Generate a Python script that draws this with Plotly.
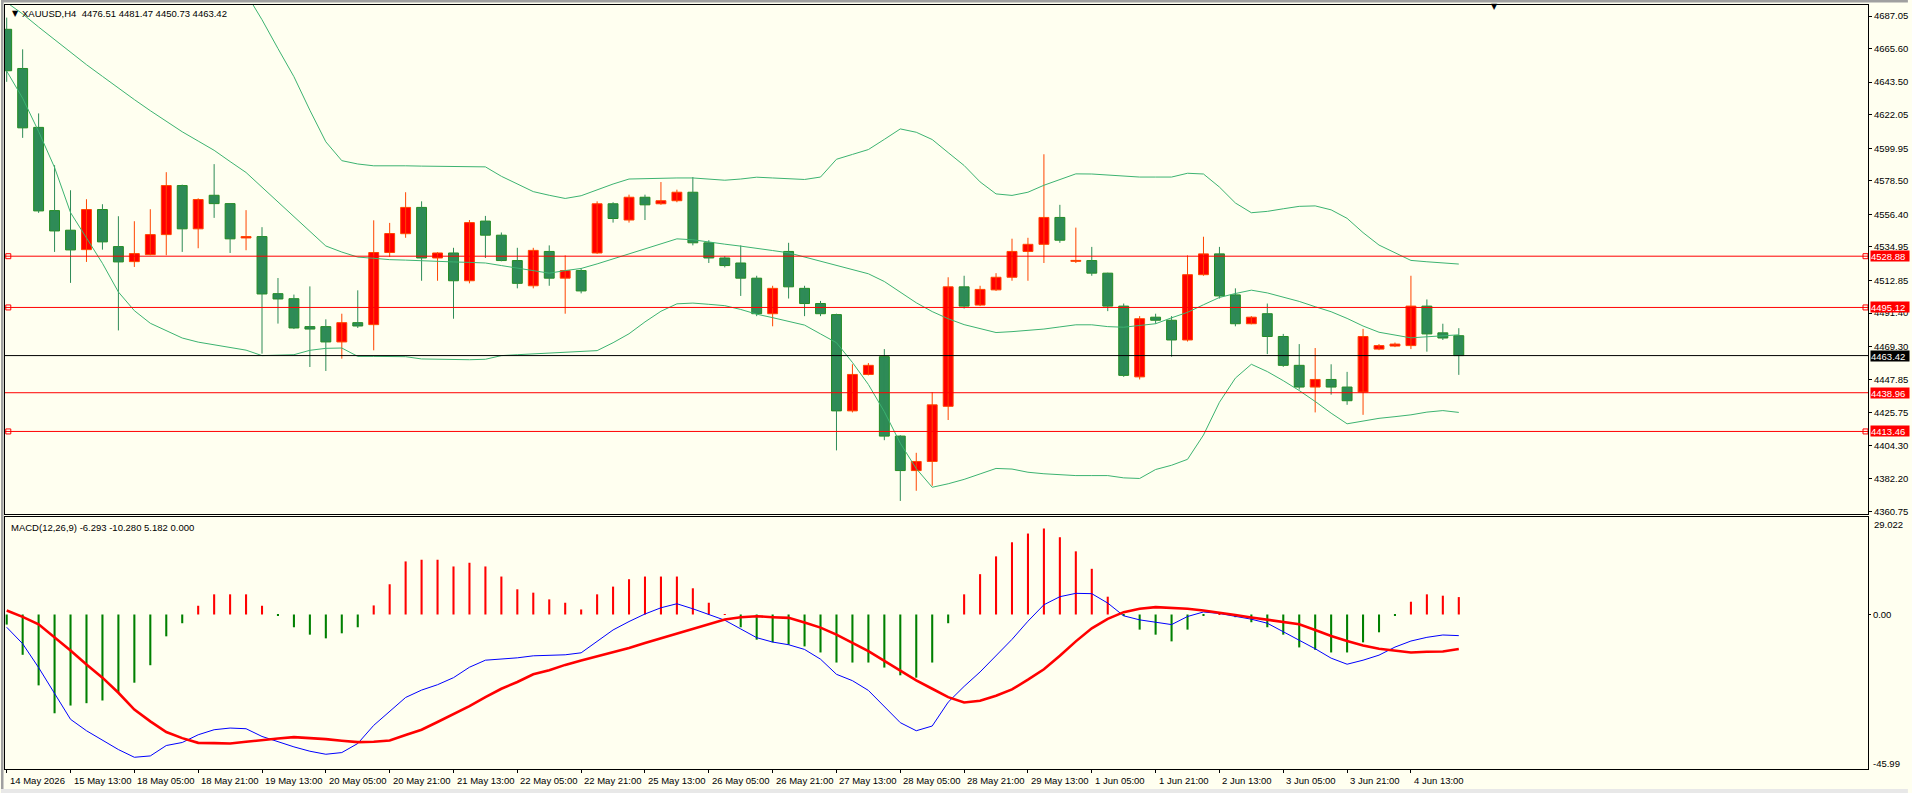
import plotly.graph_objects as go

# ---------------- data ----------------
opens = [4678.3, 4652.5, 4613.7, 4558.9, 4546.0, 4533.2, 4559.6, 4535.2, 4525.3, 4529.9,
         4543.1, 4575.4, 4546.9, 4569.0, 4563.5, 4540.9, 4541.8, 4504.2, 4500.9, 4482.5,
         4482.5, 4472.4, 4485.1, 4483.8, 4531.3, 4543.7, 4561.0, 4527.7, 4531.0, 4512.7,
         4552.0, 4542.7, 4526.0, 4509.4, 4532.0, 4514.4, 4519.4, 4531.0, 4563.4, 4552.7,
         4567.7, 4563.4, 4565.4, 4571.0, 4537.7, 4527.7, 4524.4, 4514.4, 4491.0, 4532.0,
         4507.7, 4497.7, 4490.4, 4427.0, 4451.0, 4462.7, 4410.4, 4387.7, 4393.7, 4430.0,
         4508.7, 4496.7, 4506.7, 4515.0, 4532.0, 4536.7, 4554.4, 4525.5, 4526.0, 4517.7,
         4496.0, 4449.4, 4488.7, 4486.7, 4473.7, 4516.7, 4530.4, 4503.4, 4484.4, 4491.0,
         4476.0, 4457.0, 4442.7, 4447.7, 4442.7, 4439.4, 4467.7, 4469.7, 4470.0, 4496.0,
         4478.4, 4476.51]
highs = [4686.0, 4665.1, 4622.9, 4588.8, 4572.3, 4566.4, 4563.1, 4555.2, 4551.9, 4559.8,
         4584.2, 4576.0, 4567.0, 4589.5, 4563.7, 4559.2, 4548.0, 4514.5, 4503.6, 4509.0,
         4487.3, 4491.0, 4506.4, 4552.5, 4550.8, 4571.0, 4565.0, 4531.5, 4534.4, 4552.7,
         4555.4, 4544.5, 4534.4, 4534.4, 4536.0, 4529.4, 4521.0, 4565.0, 4564.4, 4569.4,
         4569.4, 4577.7, 4572.7, 4581.0, 4539.4, 4529.0, 4536.0, 4516.0, 4509.4, 4537.7,
         4509.4, 4499.4, 4491.0, 4457.7, 4458.5, 4467.7, 4411.0, 4399.4, 4439.4, 4515.0,
         4516.0, 4509.4, 4517.7, 4540.4, 4541.0, 4596.0, 4562.7, 4547.7, 4535.0, 4518.0,
         4497.7, 4489.4, 4491.0, 4489.4, 4529.4, 4541.7, 4535.0, 4507.7, 4489.4, 4497.7,
         4477.7, 4471.0, 4468.4, 4457.7, 4452.7, 4481.0, 4471.0, 4472.0, 4516.0, 4500.4,
         4484.4, 4481.47]
lows = [4643.7, 4606.8, 4557.4, 4531.7, 4511.3, 4525.1, 4533.2, 4480.0, 4521.8, 4529.5,
        4529.5, 4531.7, 4534.1, 4554.1, 4531.0, 4532.8, 4464.7, 4484.5, 4480.9, 4455.9,
        4453.3, 4461.4, 4481.6, 4466.9, 4528.4, 4541.0, 4512.7, 4512.7, 4487.7, 4511.0,
        4527.7, 4525.5, 4507.7, 4507.7, 4509.4, 4491.0, 4504.4, 4530.4, 4551.0, 4551.0,
        4552.7, 4562.7, 4564.4, 4536.0, 4524.4, 4521.5, 4502.7, 4489.4, 4482.7, 4501.0,
        4489.4, 4489.4, 4401.0, 4426.0, 4450.4, 4407.7, 4367.7, 4374.4, 4377.7, 4421.0,
        4494.4, 4496.0, 4506.0, 4512.7, 4512.7, 4524.4, 4537.7, 4524.4, 4516.0, 4492.7,
        4449.4, 4447.7, 4484.4, 4462.7, 4472.7, 4516.0, 4501.0, 4482.7, 4484.0, 4464.4,
        4456.0, 4441.0, 4426.0, 4437.7, 4431.0, 4424.4, 4467.0, 4469.0, 4467.7, 4466.0,
        4473.7, 4450.73]
closes = [4651.0, 4613.4, 4558.7, 4545.5, 4533.0, 4559.6, 4538.3, 4525.1, 4530.6, 4543.1,
          4575.4, 4546.9, 4566.2, 4563.5, 4540.3, 4541.8, 4504.0, 4500.7, 4481.6, 4480.9,
          4472.4, 4485.1, 4482.9, 4531.3, 4543.8, 4561.0, 4527.7, 4531.0, 4512.7, 4551.0,
          4542.7, 4526.0, 4511.0, 4532.7, 4514.4, 4519.4, 4506.0, 4563.4, 4553.7, 4567.7,
          4562.7, 4565.4, 4571.0, 4537.7, 4527.7, 4522.7, 4514.4, 4491.0, 4507.7, 4508.7,
          4497.7, 4491.0, 4427.0, 4451.0, 4457.0, 4410.4, 4387.7, 4393.7, 4431.0, 4508.7,
          4496.0, 4507.0, 4515.0, 4532.0, 4536.7, 4554.4, 4539.4, 4526.0, 4517.7, 4496.0,
          4450.4, 4487.7, 4486.7, 4473.7, 4516.7, 4530.4, 4502.7, 4484.4, 4488.7, 4476.0,
          4457.0, 4442.7, 4447.7, 4442.7, 4433.7, 4476.0, 4470.0, 4471.0, 4496.0, 4477.7,
          4475.0, 4463.42]

bb_upper = [None] * 15 + [
    4702.0, 4684.6, 4665.6, 4647.1, 4625.0, 4604.2, 4591.8, 4589.6, 4588.4, 4588.6,
    4588.4, 4588.2, 4588.0, 4587.9, 4587.7, 4587.7, 4581.5, 4576.4, 4571.4, 4569.0,
    4566.9, 4568.7, 4572.7, 4576.4, 4579.7, 4580.0, 4580.4, 4580.4, 4580.4, 4579.7,
    4578.9, 4579.7, 4580.9, 4580.4, 4579.7, 4579.4, 4581.0, 4592.7, 4595.9, 4599.1,
    4605.8, 4612.7, 4610.5, 4605.7, 4597.1, 4588.6, 4577.8, 4569.9, 4568.9, 4571.0,
    4575.6, 4579.4, 4583.1, 4583.0, 4582.4, 4581.7, 4581.0, 4581.0, 4581.0, 4583.5,
    4583.0, 4574.4, 4563.9, 4557.5, 4558.4, 4560.1, 4561.7, 4562.0, 4559.4, 4553.8,
    4544.4, 4536.2, 4531.1, 4526.1, 4525.2, 4524.4, 4523.7]
bb_mid = [4696.0, 4688.4, 4679.8, 4671.4, 4662.9, 4655.0, 4647.3, 4639.4, 4632.0, 4624.7,
          4617.5, 4610.8, 4604.7, 4598.6, 4591.2, 4584.0, 4574.3, 4564.6, 4555.0, 4545.3,
          4535.6, 4531.6, 4528.3, 4527.5, 4526.6, 4526.3, 4525.8, 4525.5, 4525.1, 4524.8,
          4524.4, 4522.7, 4520.9, 4519.2, 4517.7, 4519.4, 4520.8, 4523.8, 4527.1, 4530.5,
          4533.8, 4537.1, 4540.3, 4539.7, 4538.1, 4536.8, 4535.5, 4534.2, 4532.6, 4531.1,
          4528.4, 4525.5, 4522.7, 4520.0, 4517.3, 4512.2, 4505.2, 4498.2, 4492.4, 4487.7,
          4483.8, 4481.2, 4478.6, 4479.2, 4480.1, 4480.9, 4482.3, 4483.7, 4483.7, 4482.5,
          4482.1, 4483.2, 4484.4, 4488.3, 4491.9, 4496.9, 4501.7, 4504.3, 4506.5, 4504.7,
          4502.1, 4499.1, 4495.6, 4492.3, 4487.9, 4482.9, 4478.8, 4476.9, 4475.1, 4475.8,
          4476.5, 4477.1]
bb_lower = [4650.8, 4632.9, 4611.0, 4587.3, 4557.6, 4540.5, 4524.2, 4505.3, 4493.0, 4484.7,
            4479.9, 4475.0, 4472.3, 4470.5, 4468.7, 4467.0, 4463.4, 4463.6, 4464.0, 4466.9,
            4468.2, 4468.4, 4462.9, 4462.9, 4462.9, 4462.7, 4461.2, 4461.0, 4461.0, 4460.7,
            4461.0, 4463.4, 4464.0, 4464.5, 4465.1, 4465.6, 4466.2, 4466.7, 4471.9, 4477.8,
            4485.6, 4492.6, 4497.5, 4498.0, 4497.2, 4496.3, 4493.8, 4490.7, 4488.4, 4486.2,
            4483.5, 4477.7, 4471.9, 4458.9, 4444.4, 4426.5, 4405.7, 4389.0, 4376.7, 4379.0,
            4381.9, 4385.5, 4389.1, 4388.7, 4386.6, 4385.6, 4384.9, 4384.4, 4384.4, 4384.4,
            4382.9, 4382.5, 4388.4, 4391.2, 4395.1, 4411.1, 4432.7, 4448.6, 4457.7, 4452.9,
            4446.9, 4440.4, 4433.2, 4425.5, 4418.5, 4420.4, 4422.1, 4423.2, 4424.4, 4426.2,
            4427.2, 4426.0]

macd_hist = [-3.0, -12.0, -21.1, -29.4, -27.1, -26.4, -25.6, -23.3, -20.3, -15.1,
             -6.5, -2.6, 2.6, 6.0, 6.0, 6.0, 2.6, -0.3, -3.8, -6.0,
             -7.1, -5.6, -3.8, 2.7, 9.0, 15.8, 16.3, 16.3, 14.3, 15.4,
             14.3, 11.3, 7.5, 6.5, 4.5, 3.5, 1.5, 6.0, 8.3, 10.5,
             11.3, 11.3, 11.3, 7.8, 3.5, 0.1, -3.8, -7.5, -8.3, -9.0,
             -9.5, -11.3, -14.3, -14.3, -14.3, -15.8, -18.1, -18.8, -14.3, -2.6,
             6.0, 12.0, 17.3, 21.5, 24.1, 25.6, 23.0, 18.8, 13.6, 5.3,
             -0.2, -4.5, -6.0, -8.0, -4.5, -0.2, 0.2, -0.8, -2.3, -3.8,
             -6.0, -9.8, -10.5, -11.3, -11.3, -8.3, -5.3, -0.3, 3.8, 6.0,
             5.6, 5.182]
macd_main = [-3.8, -8.7, -15.8, -23.3, -31.2, -34.6, -37.3, -40.2, -42.5, -42.1,
             -39.0, -38.1, -35.8, -34.3, -33.8, -34.0, -36.3, -37.9, -39.4, -40.7,
             -41.6, -41.1, -38.4, -33.0, -28.9, -24.7, -22.5, -20.9, -18.8, -15.7,
             -13.6, -13.3, -12.9, -12.3, -12.2, -12.0, -11.4, -8.0, -4.6, -2.1,
             0.15, 2.0, 3.2, 1.7, 0.0, -1.7, -4.3, -6.9, -8.2, -9.0,
             -10.4, -13.3, -17.8, -19.7, -22.6, -27.3, -32.2, -34.6, -33.2, -26.1,
             -21.4, -17.1, -12.4, -7.4, -2.0, 2.9, 5.3, 6.3, 6.2, 3.4,
             -0.4, -1.6, -2.3, -3.0, -0.6, 0.75, 0.3, -0.45, -1.4, -2.6,
             -5.1, -7.5, -10.2, -13.0, -14.8, -13.6, -12.1, -9.7, -7.9, -6.8,
             -6.1, -6.293]
macd_signal = [1.2, -0.7, -2.9, -6.8, -10.7, -14.9, -18.8, -23.3, -28.3, -31.8,
               -35.0, -36.8, -38.2, -38.3, -38.4, -37.9, -37.3, -36.9, -36.5, -36.7,
               -37.1, -37.6, -38.0, -37.9, -37.5, -35.9, -34.3, -32.0, -29.7, -27.3,
               -24.6, -22.1, -20.1, -17.8, -16.6, -15.0, -13.7, -12.5, -11.3, -10.0,
               -8.5, -7.1, -5.6, -4.2, -2.9, -1.5, -0.8, -0.5, -0.8, -1.0,
               -2.4, -3.9, -6.0, -8.5, -10.9, -13.8, -16.7, -19.6, -22.1, -24.6,
               -26.2, -25.7, -24.2, -22.3, -19.4, -16.3, -12.3, -8.0, -4.1, -1.3,
               0.7, 1.7, 2.2, 2.0, 1.7, 1.2, 0.6, -0.15, -0.9, -1.6,
               -2.3, -2.9, -4.6, -6.4, -7.9, -9.2, -10.2, -10.8, -11.3, -11.1,
               -11.0, -10.280]

time_labels = ["14 May 2026", "15 May 13:00", "18 May 05:00", "18 May 21:00", "19 May 13:00",
               "20 May 05:00", "20 May 21:00", "21 May 13:00", "22 May 05:00", "22 May 21:00",
               "25 May 13:00", "26 May 05:00", "26 May 21:00", "27 May 13:00", "28 May 05:00",
               "28 May 21:00", "29 May 13:00", "1 Jun 05:00", "1 Jun 21:00", "2 Jun 13:00",
               "3 Jun 05:00", "3 Jun 21:00", "4 Jun 13:00"]
time_label_bars = [0, 4, 8, 12, 16, 20, 24, 28, 32, 36, 40, 44, 48, 52, 56, 60, 64, 68, 72, 76, 80, 84, 88]

price_ticks = [4687.05, 4665.60, 4643.50, 4622.05, 4599.95, 4578.50, 4556.40, 4534.95,
               4512.85, 4491.40, 4469.30, 4447.85, 4425.75, 4404.30, 4382.20, 4360.75]
red_levels = [4528.88, 4495.12, 4438.96, 4413.46]
marked_levels = [4528.88, 4495.12, 4413.46]
bid_level = 4463.42
macd_max, macd_min = 29.022, -45.99
header = "XAUUSD,H4  4476.51 4481.47 4450.73 4463.42"
macd_title = "MACD(12,26,9) -6.293 -10.280 5.182 0.000"

# ---------------- geometry (pixels) ----------------
W, H = 1912, 793
L_M, R_M, T_M, B_M = 4, 40, 5, 24
PW = W - L_M - R_M
PH = H - T_M - B_M
BAR_PX = 16.0
X0 = -(5.7 - L_M) / BAR_PX
X1 = X0 + PW / BAR_PX


def px(X):
    return (X - L_M) / PW


def py(Y):
    return (H - B_M - Y) / PH


main_dom = [py(514), 1.0]
macd_dom = [0.0, py(517)]
FONT = "Liberation Sans, Arial, sans-serif"
BG = "#FFFFF0"

n = len(closes)
idx = list(range(n))
up = [i for i in idx if closes[i] >= opens[i]]
dn = [i for i in idx if closes[i] < opens[i]]

fig = go.Figure()


def wicks(sel):
    xs, ys = [], []
    for i in sel:
        xs += [i, i, None]
        ys += [lows[i], highs[i], None]
    return xs, ys


for sel, col in ((dn, "#2E8B57"), (up, "#FF4500")):
    xs, ys = wicks(sel)
    fig.add_trace(go.Scatter(x=xs, y=ys, mode="lines", line=dict(color=col, width=1),
                             hoverinfo="skip", xaxis="x", yaxis="y"))

for sel, fill, edge in ((dn, "#2E8B57", "#228B22"), (up, "#FF0000", "#FF4500")):
    fig.add_trace(go.Bar(
        x=sel,
        base=[min(opens[i], closes[i]) for i in sel],
        y=[max(abs(closes[i] - opens[i]), 0.6) for i in sel],
        width=0.62,
        marker=dict(color=fill, line=dict(color=edge, width=1)),
        xaxis="x", yaxis="y"))

for band in (bb_upper, bb_mid, bb_lower):
    fig.add_trace(go.Scatter(x=idx, y=band, mode="lines",
                             line=dict(color="#3CB371", width=1),
                             xaxis="x", yaxis="y"))

# level end markers
for lv in marked_levels:
    fig.add_trace(go.Scatter(x=[X0 + 3.3 / BAR_PX, X1 - 2.5 / BAR_PX], y=[lv, lv], mode="markers",
                             marker=dict(symbol="square-open", size=5, color="#FF0000",
                                         line=dict(width=1, color="#FF0000")),
                             cliponaxis=False, xaxis="x", yaxis="y"))

# MACD panel
fig.add_trace(go.Bar(x=idx, y=macd_hist, width=0.13,
                     marker=dict(color=["#FF0000" if v > 0 else "#008000" for v in macd_hist],
                                 line=dict(width=0)),
                     xaxis="x2", yaxis="y2"))
fig.add_trace(go.Scatter(x=idx, y=macd_main, mode="lines", line=dict(color="#0000FF", width=1),
                         xaxis="x2", yaxis="y2"))
fig.add_trace(go.Scatter(x=idx, y=macd_signal, mode="lines", line=dict(color="#FF0000", width=2.6),
                         xaxis="x2", yaxis="y2"))

shapes = []
for lv in red_levels:
    shapes.append(dict(type="line", xref="paper", x0=0, x1=1, yref="y", y0=lv, y1=lv,
                       line=dict(color="#FF0000", width=1)))
shapes.append(dict(type="line", xref="paper", x0=0, x1=1, yref="y", y0=bid_level, y1=bid_level,
                   line=dict(color="#000000", width=1)))
# window frame
shapes.append(dict(type="rect", xref="paper", yref="paper", x0=px(0), x1=px(2.5), y0=py(793), y1=py(0),
                   fillcolor="#A0A0A0", line=dict(width=0), layer="above"))
shapes.append(dict(type="rect", xref="paper", yref="paper", x0=px(0), x1=px(1912), y0=py(2.5), y1=py(0),
                   fillcolor="#A0A0A0", line=dict(width=0), layer="above"))
shapes.append(dict(type="rect", xref="paper", yref="paper", x0=px(0), x1=px(1912), y0=py(793), y1=py(789),
                   fillcolor="#E8E8E8", line=dict(width=0), layer="above"))

ann = []
ann.append(dict(xref="paper", yref="paper", x=px(9), y=py(13), text="▼", showarrow=False,
                xanchor="left", yanchor="middle", font=dict(family="DejaVu Sans", size=8, color="black")))
ann.append(dict(xref="paper", yref="paper", x=px(19), y=py(13), text=header, showarrow=False,
                xanchor="left", yanchor="middle", font=dict(family=FONT, size=9.5, color="black")))
ann.append(dict(xref="paper", yref="paper", x=px(1497), y=py(7), text="▼", showarrow=False,
                xanchor="center", yanchor="middle", font=dict(family="DejaVu Sans", size=8, color="black")))
ann.append(dict(xref="paper", yref="paper", x=px(8), y=py(527), text=macd_title, showarrow=False,
                xanchor="left", yanchor="middle", font=dict(family=FONT, size=9.5, color="black")))
ann.append(dict(xref="paper", yref="paper", x=px(1876), y=py(524), text=f"{macd_max:.3f}", showarrow=False,
                xanchor="left", yanchor="middle", font=dict(family=FONT, size=9.5, color="black")))
ann.append(dict(xref="paper", yref="paper", x=px(1875), y=py(763), text=f"{macd_min:.2f}", showarrow=False,
                xanchor="left", yanchor="middle", font=dict(family=FONT, size=9.5, color="black")))
for lv in red_levels:
    ann.append(dict(xref="paper", yref="y", x=1, xshift=2, y=lv, text=f"{lv:.2f}", showarrow=False,
                    xanchor="left", yanchor="middle", bgcolor="#FF0000", borderpad=0, width=38, height=10,
                    align="left", font=dict(family=FONT, size=9.5, color="white")))
ann.append(dict(xref="paper", yref="y", x=1, xshift=2, y=bid_level, text=f"{bid_level:.2f}", showarrow=False,
                xanchor="left", yanchor="middle", bgcolor="#000000", borderpad=0, width=38, height=10,
                align="left", font=dict(family=FONT, size=9.5, color="white")))
for b, t in zip(time_label_bars, time_labels):
    ann.append(dict(xref="x2", yref="paper", x=b, xshift=1, y=py(780), text=t, showarrow=False,
                    xanchor="left", yanchor="middle", font=dict(family=FONT, size=9.5, color="black")))

axis_common = dict(showgrid=False, zeroline=False, showline=True, mirror=True,
                   linecolor="black", linewidth=1)

fig.update_layout(
    width=W, height=H,
    margin=dict(l=L_M, r=R_M, t=T_M, b=B_M, pad=0),
    paper_bgcolor=BG, plot_bgcolor=BG,
    showlegend=False, barmode="overlay",
    hovermode=False,
    xaxis=dict(domain=[0, 1], range=[X0, X1], anchor="y", showticklabels=False, ticks="", **axis_common),
    yaxis=dict(domain=main_dom, range=[4359.1, 4694.3], side="right", anchor="x",
               tickvals=price_ticks, ticktext=[f"{v:.2f}" for v in price_ticks],
               ticks="outside", ticklen=3, tickcolor="black",
               tickfont=dict(family=FONT, size=9.5, color="black"), **axis_common),
    xaxis2=dict(domain=[0, 1], range=[X0, X1], anchor="y2", matches="x", showticklabels=False,
                tickvals=time_label_bars, ticks="outside", ticklen=3, tickcolor="black", **axis_common),
    yaxis2=dict(domain=macd_dom, range=[macd_min, macd_max], side="right", anchor="x2",
                tickvals=[0], ticktext=["0.00"], ticks="outside", ticklen=2, tickcolor="black",
                tickfont=dict(family=FONT, size=9.5, color="black"), **axis_common),
    shapes=shapes, annotations=ann,
)

fig.write_html("out.html")
